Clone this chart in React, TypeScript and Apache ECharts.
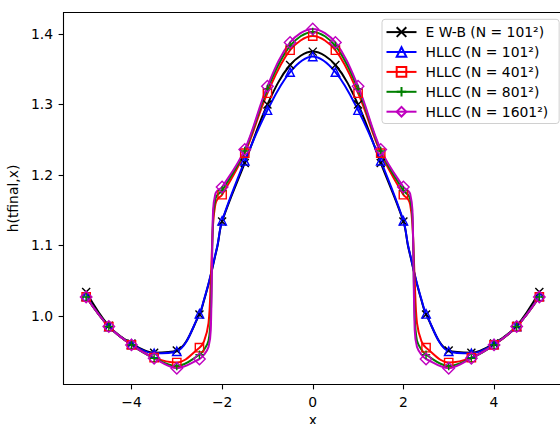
import React, { useEffect, useRef } from 'react';
import * as echarts from 'echarts';

// x positions of the plotted points (markers at every multiple of 0.5)
const X = [
  -5, -4.5, -4, -3.5, -3, -2.5, -2.4, -2.3, -2.25, -2.2, -2.15, -2.1, -2, -1.5, -1, -0.5,
  0,
  0.5, 1, 1.5, 2, 2.1, 2.15, 2.2, 2.25, 2.3, 2.4, 2.5, 3, 3.5, 4, 4.5, 5,
];

const EWB_101 = [
  1.034, 0.986, 0.961, 0.948, 0.951, 1.002, 1.022, 1.045, 1.058, 1.072, 1.086, 1.100, 1.134, 1.217, 1.300, 1.356,
  1.375,
  1.356, 1.300, 1.217, 1.134, 1.100, 1.086, 1.072, 1.058, 1.045, 1.022, 1.002, 0.951, 0.948, 0.961, 0.986, 1.034,
];

const HLLC_101 = [
  1.028, 0.985, 0.960, 0.947, 0.950, 1.003, 1.023, 1.046, 1.059, 1.073, 1.087, 1.101, 1.135, 1.220, 1.292, 1.346,
  1.368,
  1.346, 1.292, 1.220, 1.135, 1.101, 1.087, 1.073, 1.059, 1.046, 1.023, 1.003, 0.950, 0.947, 0.960, 0.985, 1.028,
];

const HLLC_401 = [
  1.027, 0.985, 0.959, 0.941, 0.934, 0.955, 0.964, 0.990, 1.050, 1.130, 1.158, 1.166, 1.172, 1.231, 1.316, 1.377,
  1.397,
  1.377, 1.316, 1.231, 1.172, 1.166, 1.158, 1.130, 1.050, 0.990, 0.964, 0.955, 0.934, 0.941, 0.959, 0.985, 1.027,
];

const HLLC_801 = [
  1.027, 0.985, 0.959, 0.940, 0.929, 0.945, 0.952, 0.965, 1.000, 1.140, 1.166, 1.172, 1.178, 1.234, 1.322, 1.383,
  1.403,
  1.383, 1.322, 1.234, 1.178, 1.172, 1.166, 1.140, 1.000, 0.965, 0.952, 0.945, 0.929, 0.940, 0.959, 0.985, 1.027,
];

const HLLC_1601 = [
  1.027, 0.985, 0.959, 0.940, 0.926, 0.939, 0.945, 0.956, 0.980, 1.150, 1.173, 1.178, 1.183, 1.236, 1.326, 1.388,
  1.407,
  1.388, 1.326, 1.236, 1.183, 1.178, 1.173, 1.150, 0.980, 0.956, 0.945, 0.939, 0.926, 0.940, 0.959, 0.985, 1.027,
];

const SERIES_NAMES = [
  'E W-B (N = 101²)',
  'HLLC (N = 101²)',
  'HLLC (N = 401²)',
  'HLLC (N = 801²)',
  'HLLC (N = 1601²)',
];

const X_TICKS = [-4, -2, 0, 2, 4];
const Y_TICKS = [1.0, 1.1, 1.2, 1.3, 1.4];

const FONT = 'DejaVu Sans';
const FS = 13.9;

const isMarker = (x: number) => Math.abs(x / 0.5 - Math.round(x / 0.5)) < 1e-9;

function makeSeries(name: string, ys: number[], color: string, symbol: string, symbolSize: number) {
  return {
    name,
    type: 'line',
    smooth: 0.35,
    showAllSymbol: true,
    symbol,
    symbolSize,
    data: X.map((x, i) => (isMarker(x) ? [x, ys[i]] : { value: [x, ys[i]], symbol: 'none' })),
    lineStyle: { color, width: 2 },
    itemStyle: { color: 'none', borderColor: color, borderWidth: 1.4 },
    emphasis: { disabled: true },
  };
}

export default function App() {
  const ref = useRef<HTMLDivElement>(null);
  useEffect(() => {
    if (!ref.current) return;
    const chart = echarts.init(ref.current, undefined, { renderer: 'svg' });
    const minus = (v: number) => String(v).replace('-', '\u2212');
    chart.setOption({
      animation: false,
      backgroundColor: '#fff',
      textStyle: { fontFamily: FONT },
      grid: {
        left: 63.5,
        top: 12.5,
        width: 498.5,
        height: 372,
        show: true,
        borderColor: '#000',
        borderWidth: 1.1,
        containLabel: false,
        outerBoundsMode: 'none',
      },
      legend: {
        orient: 'vertical',
        left: 382,
        top: 19.3,
        selectedMode: false,
        padding: [5.5, 11, 4.5, 3.5],
        itemWidth: 30,
        itemHeight: 12,
        itemGap: 5.3,
        backgroundColor: 'rgba(255,255,255,0.8)',
        borderColor: '#d0d0d0',
        borderWidth: 1,
        borderRadius: 3,
        textStyle: { fontFamily: FONT, fontSize: FS, color: '#000', lineHeight: 14, padding: [0, 0, 0, 4] },
        data: SERIES_NAMES,
      },
      xAxis: {
        type: 'value',
        min: -5.5,
        max: 5.5,
        name: 'x',
        nameLocation: 'middle',
        nameGap: 23,
        nameTextStyle: { fontFamily: FONT, fontSize: FS, color: '#000', lineHeight: 10 },
        axisLine: { show: false, onZero: false },
        axisTick: { show: true, length: 4.9, lineStyle: { color: '#000', width: 1.1 }, customValues: X_TICKS },
        axisLabel: {
          customValues: X_TICKS,
          margin: 10,
          fontFamily: FONT,
          fontSize: FS,
          color: '#000',
          formatter: (v: number) => minus(v),
        },
        splitLine: { show: false },
      },
      yAxis: {
        type: 'value',
        min: 0.9028,
        max: 1.4305,
        name: 'h(tfinal,x)',
        nameLocation: 'middle',
        nameRotate: 90,
        nameGap: 37,
        nameTextStyle: { fontFamily: FONT, fontSize: FS, color: '#000' },
        axisLine: { show: false, onZero: false },
        axisTick: { show: true, length: 4.9, lineStyle: { color: '#000', width: 1.1 }, customValues: Y_TICKS },
        axisLabel: {
          customValues: Y_TICKS,
          margin: 10.5,
          fontFamily: FONT,
          fontSize: FS,
          color: '#000',
          formatter: (v: number) => v.toFixed(1),
        },
        splitLine: { show: false },
      },
      series: [
        makeSeries(SERIES_NAMES[0], EWB_101, '#000000', 'path://M0,0L10,10M0,10L10,0', 8),
        makeSeries(SERIES_NAMES[1], HLLC_101, '#0000ff', 'triangle', 8.5),
        makeSeries(SERIES_NAMES[2], HLLC_401, '#ff0000', 'rect', 8.3),
        makeSeries(SERIES_NAMES[3], HLLC_801, '#008000', 'path://M5,0L5,10M0,5L10,5', 8.3),
        makeSeries(SERIES_NAMES[4], HLLC_1601, '#bf00bf', 'diamond', 11.5),
      ],
    });
    return () => chart.dispose();
  }, []);
  return <div ref={ref} style={{ position: 'fixed', left: 0, top: 0, width: 560, height: 424 }} />;
}
